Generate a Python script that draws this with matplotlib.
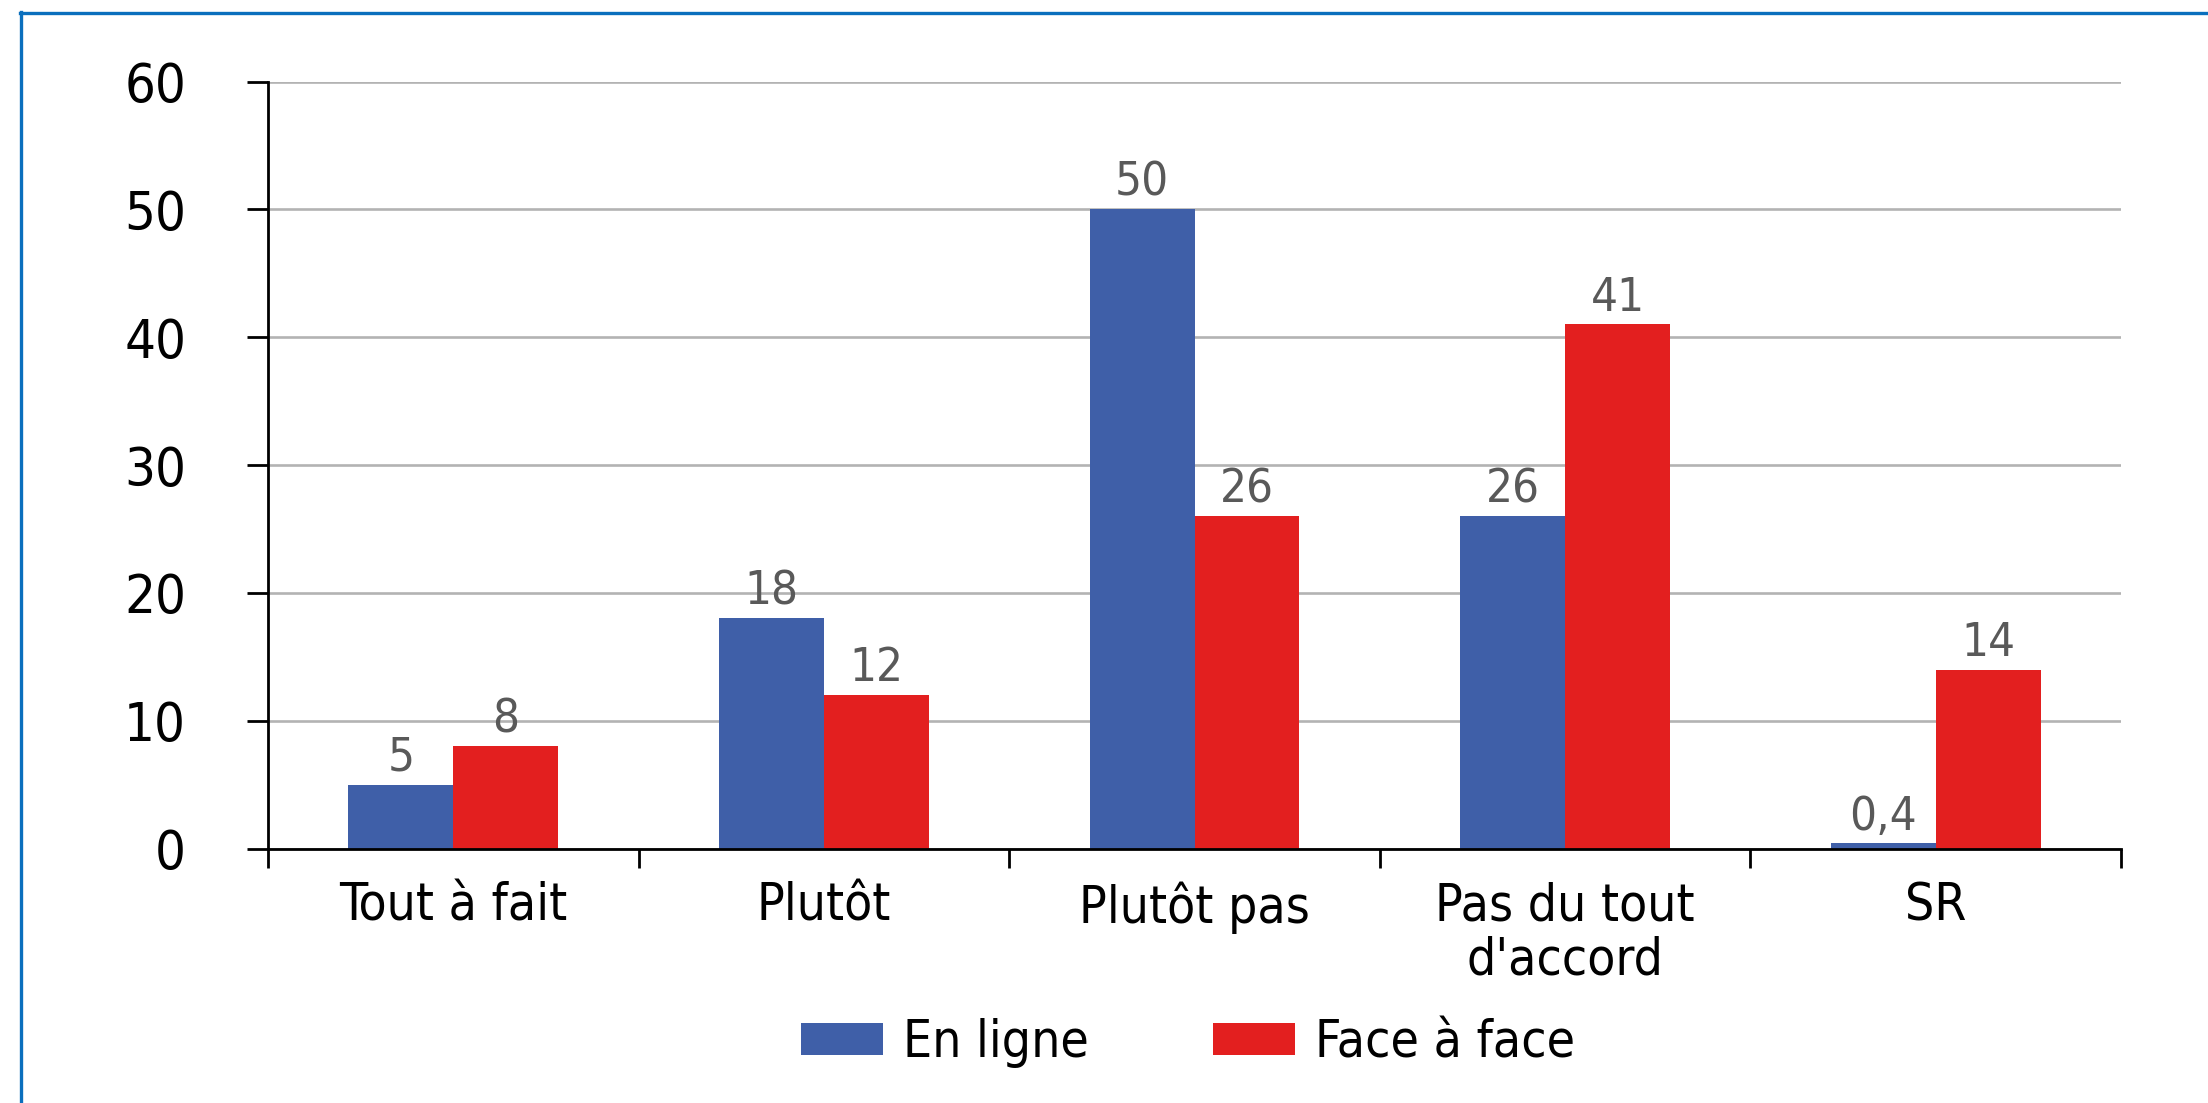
import numpy as np
import matplotlib.pyplot as plt
from matplotlib import font_manager
from matplotlib.lines import Line2D
from matplotlib.ticker import FixedLocator

# narrow font if one is installed, else a condensed face
installed = {(f.name, f.stretch) for f in font_manager.fontManager.ttflist}
if any(n == 'Liberation Sans Narrow' for n, s in installed):
    plt.rcParams['font.family'] = ['Liberation Sans Narrow', 'DejaVu Sans']
else:
    plt.rcParams['font.family'] = ['DejaVu Sans']
    plt.rcParams['font.stretch'] = 'condensed'

categories = ["Tout à fait", "Plutôt", "Plutôt pas", "Pas du tout\nd'accord", "SR"]
en_ligne = [5, 18, 50, 26, 0.4]
face_a_face = [8, 12, 26, 41, 14]
series_names = ["En ligne", "Face à face"]
yticks = [0, 10, 20, 30, 40, 50, 60]

blue = "#3F5FA8"
red = "#E31F1F"

fig = plt.figure(figsize=(22.08, 11.03), dpi=100)
ax = fig.add_axes([0.1214, 0.2307, 0.9606 - 0.1214, 0.9261 - 0.2307])

x = np.arange(len(categories))
w = 0.283
b1 = ax.bar(x - w/2, en_ligne, w, color=blue, label=series_names[0])
b2 = ax.bar(x + w/2, face_a_face, w, color=red, label=series_names[1])


def fmt(v):
    s = ("%g" % v)
    return s.replace(".", ",")


for bars, vals in [(b1, en_ligne), (b2, face_a_face)]:
    for rect, v in zip(bars, vals):
        ax.annotate(fmt(v), (rect.get_x() + rect.get_width()/2, v),
                    xytext=(0, 10), textcoords="offset points",
                    ha="center", va="baseline", fontsize=34, color="#595959")

ax.set_xlim(-0.5, len(categories) - 0.5)
ax.set_ylim(0, 60)
ax.set_yticks(yticks)
ax.set_yticklabels([str(t) for t in yticks])
ax.yaxis.grid(True, color="#B3B3B3", linewidth=1.9)
ax.set_axisbelow(True)

ax.set_xticks(x)
ax.set_xticklabels(categories, linespacing=1.1)
ax.xaxis.set_minor_locator(FixedLocator(np.arange(-0.5, len(categories), 1.0)))
ax.tick_params(axis="x", which="major", length=0, pad=24, labelsize=37)
ax.tick_params(axis="x", which="minor", length=13.7, width=2, direction="out")
ax.tick_params(axis="y", length=15, width=2, pad=44, labelsize=39)

for s in ["top", "right"]:
    ax.spines[s].set_visible(False)
for s in ["left", "bottom"]:
    ax.spines[s].set_linewidth(2)
    ax.spines[s].set_color("black")

fig.legend(handles=[b1, b2], labels=series_names, loc="center",
           bbox_to_anchor=(1188/2208, 1 - 1043/1103), ncol=2, frameon=False,
           fontsize=37, handlelength=1.6, handleheight=0.6,
           handletextpad=0.4, columnspacing=2.4)

# blue frame on left and top
border = "#0A6FBD"
fig.add_artist(Line2D([21/2208, 21/2208], [0, 1 - 12/1103], color=border,
                      linewidth=2.4, transform=fig.transFigure))
fig.add_artist(Line2D([20/2208, 1], [1 - 13/1103, 1 - 13/1103], color=border,
                      linewidth=2.4, transform=fig.transFigure))

fig.savefig("out.png", dpi=100)
